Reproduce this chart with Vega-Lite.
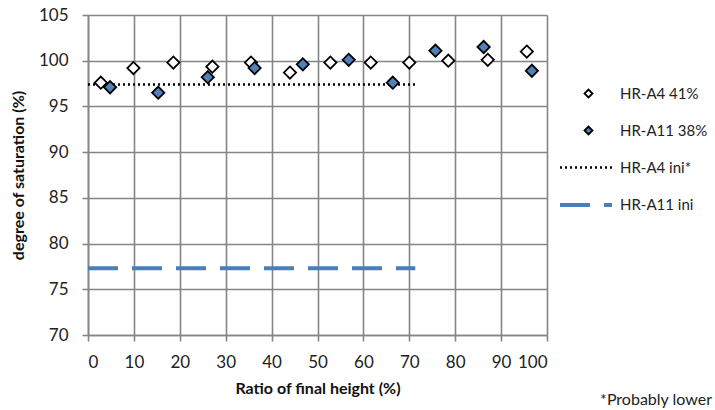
{
  "$schema": "https://vega.github.io/schema/vega-lite/v6.json",
  "width": 459,
  "height": 320,
  "autosize": "none",
  "padding": {"left": 88, "top": 15, "right": 168, "bottom": 75},
  "background": "white",
  "config": {
    "font": "Lato",
    "view": {"stroke": null},
    "axis": {
      "gridColor": "#858585",
      "gridWidth": 1.6,
      "domainColor": "#858585",
      "domainWidth": 1.6,
      "tickColor": "#858585",
      "tickWidth": 1.6,
      "tickSize": 6,
      "labelFont": "Lato",
      "labelFontSize": 17,
      "labelColor": "#222",
      "titleFont": "Lato",
      "titleFontSize": 16,
      "titleFontWeight": "bold",
      "titleColor": "#111"
    },
    "legend": {
      "labelFont": "Lato",
      "labelFontSize": 15,
      "labelColor": "#222",
      "padding": 0,
      "title": null
    }
  },
  "title": {
    "text": "*Probably lower",
    "orient": "bottom",
    "anchor": "end",
    "frame": "group",
    "dx": 165,
    "offset": -4,
    "font": "Lato",
    "fontSize": 16,
    "fontWeight": "normal",
    "color": "#222"
  },
  "datasets": {
    "pts": [
      {"pseries": "HR-A4 41%", "x": 2.8, "y": 97.6},
      {"pseries": "HR-A4 41%", "x": 9.9, "y": 99.2},
      {"pseries": "HR-A4 41%", "x": 18.6, "y": 99.8},
      {"pseries": "HR-A4 41%", "x": 27.1, "y": 99.35},
      {"pseries": "HR-A4 41%", "x": 35.5, "y": 99.8},
      {"pseries": "HR-A4 41%", "x": 44.0, "y": 98.7},
      {"pseries": "HR-A4 41%", "x": 52.8, "y": 99.8},
      {"pseries": "HR-A4 41%", "x": 61.6, "y": 99.8},
      {"pseries": "HR-A4 41%", "x": 70.0, "y": 99.8},
      {"pseries": "HR-A4 41%", "x": 78.5, "y": 100.0},
      {"pseries": "HR-A4 41%", "x": 87.1, "y": 100.1},
      {"pseries": "HR-A4 41%", "x": 95.6, "y": 101.0},
      {"pseries": "HR-A11 38%", "x": 4.8, "y": 97.1},
      {"pseries": "HR-A11 38%", "x": 15.3, "y": 96.5},
      {"pseries": "HR-A11 38%", "x": 26.1, "y": 98.2},
      {"pseries": "HR-A11 38%", "x": 36.3, "y": 99.2},
      {"pseries": "HR-A11 38%", "x": 46.8, "y": 99.6},
      {"pseries": "HR-A11 38%", "x": 56.8, "y": 100.1},
      {"pseries": "HR-A11 38%", "x": 66.4, "y": 97.6},
      {"pseries": "HR-A11 38%", "x": 75.7, "y": 101.1},
      {"pseries": "HR-A11 38%", "x": 86.2, "y": 101.5},
      {"pseries": "HR-A11 38%", "x": 96.7, "y": 98.9}
    ],
    "ini": [
      {"lseries": "HR-A11 ini", "x": 0, "y": 77.3},
      {"lseries": "HR-A11 ini", "x": 71.3, "y": 77.3},
      {"lseries": "HR-A4 ini*", "x": 0, "y": 97.4},
      {"lseries": "HR-A4 ini*", "x": 71.5, "y": 97.4}
    ]
  },
  "encoding": {
    "x": {
      "field": "x",
      "type": "quantitative",
      "scale": {"domain": [0, 100], "nice": false},
      "axis": {
        "values": [0, 10, 20, 30, 40, 50, 60, 70, 80, 90, 100],
        "title": "Ratio of final height (%)",
        "labelPadding": 13,
        "titlePadding": 10
      }
    },
    "y": {
      "field": "y",
      "type": "quantitative",
      "scale": {"domain": [70, 105], "nice": false, "zero": false},
      "axis": {
        "values": [70, 75, 80, 85, 90, 95, 100, 105],
        "title": "degree of saturation (%)",
        "labelPadding": 14,
        "titlePadding": 12
      }
    }
  },
  "layer": [
    {
      "data": {"name": "ini"},
      "mark": {"type": "line", "strokeCap": "butt"},
      "encoding": {
        "detail": {"field": "lseries"},
        "stroke": {
          "field": "lseries",
          "type": "nominal",
          "scale": {"domain": ["HR-A4 ini*", "HR-A11 ini"], "range": ["black", "#4a7ebb"]},
          "legend": {
            "orient": "none",
            "legendX": 470,
            "legendY": 125,
            "rowPadding": 1,
            "symbolType": "stroke",
            "symbolSize": 2700,
            "labelOffset": 6
          }
        },
        "strokeDash": {
          "field": "lseries",
          "type": "nominal",
          "scale": {"domain": ["HR-A4 ini*", "HR-A11 ini"], "range": [[2, 3], [30, 14]]},
          "legend": {
            "orient": "none",
            "legendX": 470,
            "legendY": 125,
            "rowPadding": 1,
            "symbolType": "stroke",
            "symbolSize": 2700,
            "labelOffset": 6
          }
        },
        "strokeWidth": {
          "field": "lseries",
          "type": "nominal",
          "scale": {"type": "ordinal", "domain": ["HR-A4 ini*", "HR-A11 ini"], "range": [2.5, 4]},
          "legend": {
            "orient": "none",
            "legendX": 470,
            "legendY": 125,
            "rowPadding": 1,
            "symbolType": "stroke",
            "symbolSize": 2700,
            "labelOffset": 6
          }
        }
      }
    },
    {
      "data": {"name": "pts"},
      "mark": {"type": "point", "shape": "diamond", "filled": true, "size": 150, "stroke": "black", "strokeWidth": 1.8, "opacity": 1},
      "encoding": {
        "fill": {
          "field": "pseries",
          "type": "nominal",
          "sort": null,
          "scale": {"domain": ["HR-A4 41%", "HR-A11 38%"], "range": ["white", "#4f81bd"]},
          "legend": {
            "orient": "none",
            "legendX": 493,
            "legendY": 71,
            "rowPadding": 20,
            "symbolType": "diamond",
            "symbolSize": 64,
            "symbolStrokeColor": "black",
            "symbolStrokeWidth": 1.8,
            "labelOffset": 24
          }
        }
      }
    }
  ]
}
